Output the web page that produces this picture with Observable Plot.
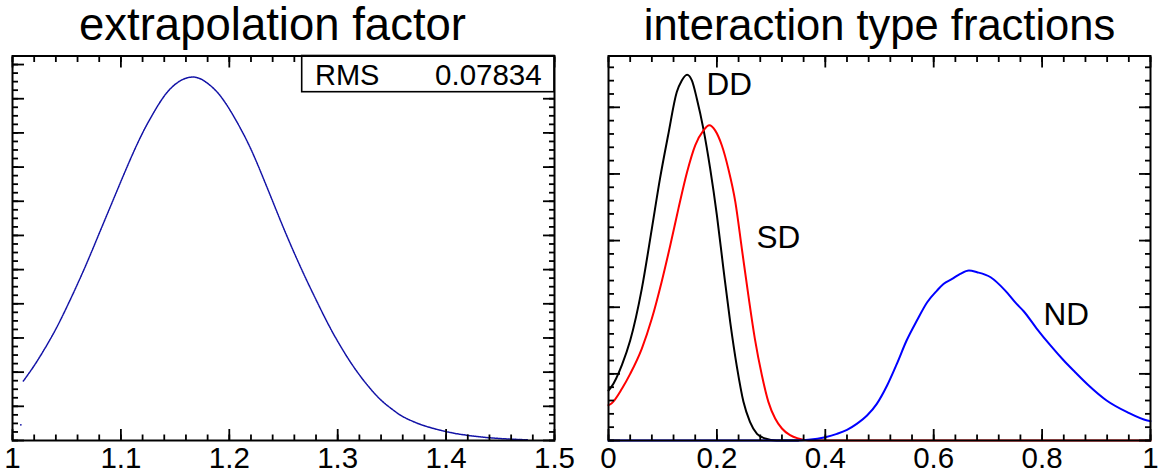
<!DOCTYPE html>
<html>
<head>
<meta charset="utf-8">
<script src="https://cdn.jsdelivr.net/npm/d3@7"></script>
<script src="https://cdn.jsdelivr.net/npm/@observablehq/plot@0.6"></script>
<style>
  html, body { margin: 0; padding: 0; background: #fff; }
  #wrap { display: flex; flex-direction: row; width: 1173px; height: 475px; }
  svg { display: block; }
</style>
</head>
<body>
<div id="wrap"></div>
<script>
// ---------- data: left panel (extrapolation factor histogram) ----------
const leftTitle = "extrapolation factor";
const leftX = [1.01, 1.02, 1.03, 1.04, 1.05, 1.06, 1.07, 1.08, 1.09, 1.10, 1.11, 1.12, 1.13, 1.14, 1.15, 1.16, 1.17, 1.18, 1.19, 1.20, 1.21, 1.22, 1.23, 1.24, 1.25, 1.26, 1.27, 1.28, 1.29, 1.30, 1.31, 1.32, 1.33, 1.34, 1.35, 1.36, 1.37, 1.38, 1.40, 1.42, 1.44, 1.46, 1.475];
const leftY = [1.74, 2.19, 2.70, 3.26, 3.90, 4.58, 5.30, 6.06, 6.82, 7.58, 8.32, 9.00, 9.58, 10.08, 10.42, 10.60, 10.62, 10.45, 10.15, 9.70, 9.15, 8.52, 7.78, 7.00, 6.22, 5.48, 4.78, 4.12, 3.48, 2.90, 2.38, 1.92, 1.52, 1.18, 0.92, 0.70, 0.55, 0.43, 0.26, 0.15, 0.08, 0.04, 0.02];
const leftFirstBinX = [1.0077];
const leftFirstBinY = [0.46];
const leftXTicks = [1, 1.1, 1.2, 1.3, 1.4, 1.5];
const leftXTickLabels = ["1", "1.1", "1.2", "1.3", "1.4", "1.5"];
const statName = "RMS";
const statValue = "0.07834";

// ---------- data: right panel (interaction type fractions) ----------
const rightTitle = "interaction type fractions";
const ddX = [0, 0.005, 0.025, 0.04, 0.0615, 0.08, 0.095, 0.11, 0.126, 0.135, 0.145, 0.154, 0.163, 0.175, 0.1876, 0.2, 0.212, 0.2245, 0.237, 0.249, 0.261, 0.274, 0.289, 0.31, 0.35];
const ddY = [0.75, 0.80, 1.14, 1.50, 2.28, 3.18, 3.93, 4.58, 5.23, 5.40, 5.49, 5.40, 5.13, 4.68, 4.08, 3.38, 2.58, 1.78, 1.10, 0.58, 0.28, 0.10, 0.03, 0, 0];
const sdX = [0, 0.006, 0.025, 0.04, 0.0615, 0.08, 0.098, 0.114, 0.129, 0.145, 0.16, 0.175, 0.186, 0.197, 0.209, 0.221, 0.234, 0.246, 0.258, 0.27, 0.283, 0.295, 0.3075, 0.32, 0.335, 0.35, 0.369, 0.5, 1.0];
const sdY = [0.53, 0.56, 0.78, 1.0, 1.38, 1.83, 2.38, 2.93, 3.48, 4.03, 4.43, 4.65, 4.73, 4.65, 4.43, 4.08, 3.58, 2.88, 2.18, 1.53, 0.98, 0.58, 0.33, 0.18, 0.08, 0.03, 0, 0, 0];
const ndX = [0, 0.2, 0.35, 0.369, 0.4, 0.4215, 0.44, 0.458, 0.477, 0.495, 0.514, 0.532, 0.55, 0.569, 0.588, 0.606, 0.618, 0.634, 0.649, 0.665, 0.68, 0.705, 0.732, 0.753, 0.766, 0.79, 0.815, 0.84, 0.861, 0.886, 0.919, 0.957, 0.994, 1.0];
const ndY = [0, 0, 0, 0.01, 0.05, 0.10, 0.16, 0.25, 0.375, 0.55, 0.825, 1.15, 1.5, 1.8, 2.075, 2.25, 2.35, 2.425, 2.5, 2.55, 2.525, 2.45, 2.25, 2.05, 1.94, 1.68, 1.43, 1.2, 1.025, 0.825, 0.6, 0.425, 0.30, 0.29];
const seriesLabels = ["DD", "SD", "ND"];
const labelX = [0.181, 0.273, 0.8026];
const labelY = [5.18, 2.885, 1.74];
const rightXTicks = [0, 0.2, 0.4, 0.6, 0.8, 1];
const rightXTickLabels = ["0", "0.2", "0.4", "0.6", "0.8", "1"];

// ---------- helpers ----------
const FONT = "'Liberation Sans', Arial, Helvetica, sans-serif";
const toPts = (xs, ys) => xs.map((x, i) => ({x, y: ys[i]}));

function frameTicks(xMajor, xMinor, yMajor, yMinor) {
  const common = {stroke: "black", strokeWidth: 1.8, fill: "none", label: null};
  return [
    Plot.axisX({...common, anchor: "bottom", ticks: xMajor, tickSize: -11}),
    Plot.axisX({...common, anchor: "bottom", ticks: xMinor, tickSize: -5.5}),
    Plot.axisX({...common, anchor: "top", ticks: xMajor, tickSize: -11}),
    Plot.axisX({...common, anchor: "top", ticks: xMinor, tickSize: -5.5}),
    Plot.axisY({...common, anchor: "left", ticks: yMajor, tickSize: -12}),
    Plot.axisY({...common, anchor: "left", ticks: yMinor, tickSize: -6}),
    Plot.axisY({...common, anchor: "right", ticks: yMajor, tickSize: -12}),
    Plot.axisY({...common, anchor: "right", ticks: yMinor, tickSize: -6})
  ];
}

// ---------- left panel ----------
const leftXMinor = d3.range(1, 1.5001, 0.02);
const leftYMajor = d3.range(0, 11.01, 1);
const leftYMinor = d3.range(0, 11.26, 0.25);

const statBox = (index, scales, values, dims) => {
  const g = d3.create("svg:g");
  const right = dims.width - dims.marginRight;
  const top = dims.marginTop;
  g.append("rect")
    .attr("x", right - 252.3).attr("y", top)
    .attr("width", 252.3).attr("height", 36.2)
    .attr("fill", "white").attr("stroke", "black").attr("stroke-width", 1.6);
  g.append("text").attr("x", right - 239).attr("y", top + 29.5)
    .attr("text-anchor", "start")
    .attr("font-family", FONT).attr("font-size", 29).attr("fill", "black")
    .text(statName);
  g.append("text").attr("x", right - 12.3).attr("y", top + 29.5)
    .attr("text-anchor", "end")
    .attr("font-family", FONT).attr("font-size", 29.5).attr("fill", "black")
    .text(statValue);
  return g.node();
};

const left = Plot.plot({
  width: 586, height: 475,
  marginLeft: 12, marginRight: 32, marginTop: 55.5, marginBottom: 35,
  style: {fontFamily: FONT, fontSize: "29.5px", background: "white", overflow: "visible"},
  x: {domain: [1, 1.5]},
  y: {domain: [0, 11.25]},
  marks: [
    Plot.line(toPts(leftX, leftY), {x: "x", y: "y", stroke: "#1212a6", strokeWidth: 1.5, strokeDasharray: "1.4,0.9", curve: "natural"}),
    Plot.dot(toPts(leftFirstBinX, leftFirstBinY), {x: "x", y: "y", r: 0.9, fill: "#1212a6"}),
    ...frameTicks(leftXTicks, leftXMinor, leftYMajor, leftYMinor),
    Plot.axisX({anchor: "bottom", ticks: leftXTicks, tickSize: 0, tickPadding: 7, tickFormat: (d, i) => leftXTickLabels[i], fontSize: 29.5, label: null}),
    statBox,
    Plot.frame({stroke: "black", strokeWidth: 2}),
    Plot.text([leftTitle], {frameAnchor: "top", dx: -11, dy: -16, lineAnchor: "bottom", fontSize: 45.5, fill: "black", text: d => d})
  ]
});

// ---------- right panel ----------
const rightXMinor = d3.range(0, 1.0001, 0.04);
const rightYMajor = d3.range(0, 5.01, 1);
const rightYMinor = d3.range(0, 5.77, 0.2);

const labelPts = seriesLabels.map((t, i) => ({t, x: labelX[i], y: labelY[i]}));

const right = Plot.plot({
  width: 587, height: 475,
  marginLeft: 22, marginRight: 23, marginTop: 55.5, marginBottom: 35,
  style: {fontFamily: FONT, fontSize: "29.5px", background: "white", overflow: "visible"},
  x: {domain: [0, 1]},
  y: {domain: [0, 5.77]},
  marks: [
    Plot.line(toPts(ddX, ddY), {x: "x", y: "y", stroke: "#000000", strokeWidth: 2, curve: "monotone-x"}),
    Plot.line(toPts(sdX, sdY), {x: "x", y: "y", stroke: "#ff0000", strokeWidth: 2, curve: "monotone-x"}),
    Plot.line(toPts(ndX, ndY), {x: "x", y: "y", stroke: "#0000ff", strokeWidth: 2, curve: "monotone-x"}),
    Plot.text(labelPts, {x: "x", y: "y", text: "t", textAnchor: "start", lineAnchor: "bottom", fontSize: 31.5, fill: "black"}),
    ...frameTicks(rightXTicks, rightXMinor, rightYMajor, rightYMinor),
    Plot.axisX({anchor: "bottom", ticks: rightXTicks, tickSize: 0, tickPadding: 7, tickFormat: (d, i) => rightXTickLabels[i], fontSize: 29.5, label: null}),
    Plot.frame({stroke: "black", strokeWidth: 2}),
    Plot.text([rightTitle], {frameAnchor: "top", dx: 0, dy: -16, lineAnchor: "bottom", fontSize: 43.5, fill: "black", text: d => d})
  ]
});

document.getElementById("wrap").append(left, right);
</script>
</body>
</html>
